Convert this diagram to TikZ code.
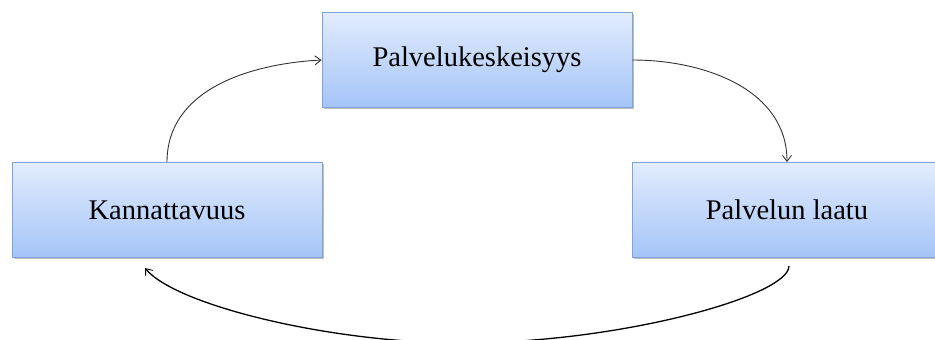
\documentclass[tikz,border=0pt]{standalone}
\usepackage{fontspec}
\setmainfont{Liberation Serif}
\usetikzlibrary{arrows.meta,shadows}
\definecolor{boxtop}{HTML}{E2ECFD}
\definecolor{boxbot}{HTML}{A4C4F8}
\definecolor{boxline}{HTML}{7EA3DB}
\tikzset{
  stepbox/.style={draw=boxline, line width=0.8pt, top color=boxtop, bottom color=boxbot,
    minimum width=310pt, minimum height=95pt, inner sep=0pt, anchor=center,
    font=\fontsize{28.5}{31}\selectfont,
    drop shadow={shadow xshift=1.5pt, shadow yshift=-1.5pt, fill=black, opacity=0.25}},
  link/.style={draw=black!80, line width=0.9pt, -{Straight Barb[length=6pt,width=9pt,line width=0.9pt]}},
  boldlink/.style={link, draw=black, line width=1.3pt}
}
\begin{document}
\begin{tikzpicture}[x=1pt,y=-1pt]
\useasboundingbox (0,0) rectangle (935,340);
\node[stepbox] (top) at (477,60) {Palvelukeskeisyys};
\node[stepbox] (left) at (167,210) {Kannattavuus};
\node[stepbox] (right) at (787,210) {Palvelun laatu};
\coordinate (bstart) at (789,266);
\coordinate (bend) at (145,268);
\coordinate (bmid) at (462,343);
\draw[link] (left.north) to[out=90,in=183] (top.west);
\draw[link] (top.east) to[out=0,in=90] (right.north);
\draw[boldlink] (bstart) .. controls (789,296) and (620,343) .. (bmid) .. controls (330,343) and (175,305) .. (bend);
\end{tikzpicture}
\end{document}
